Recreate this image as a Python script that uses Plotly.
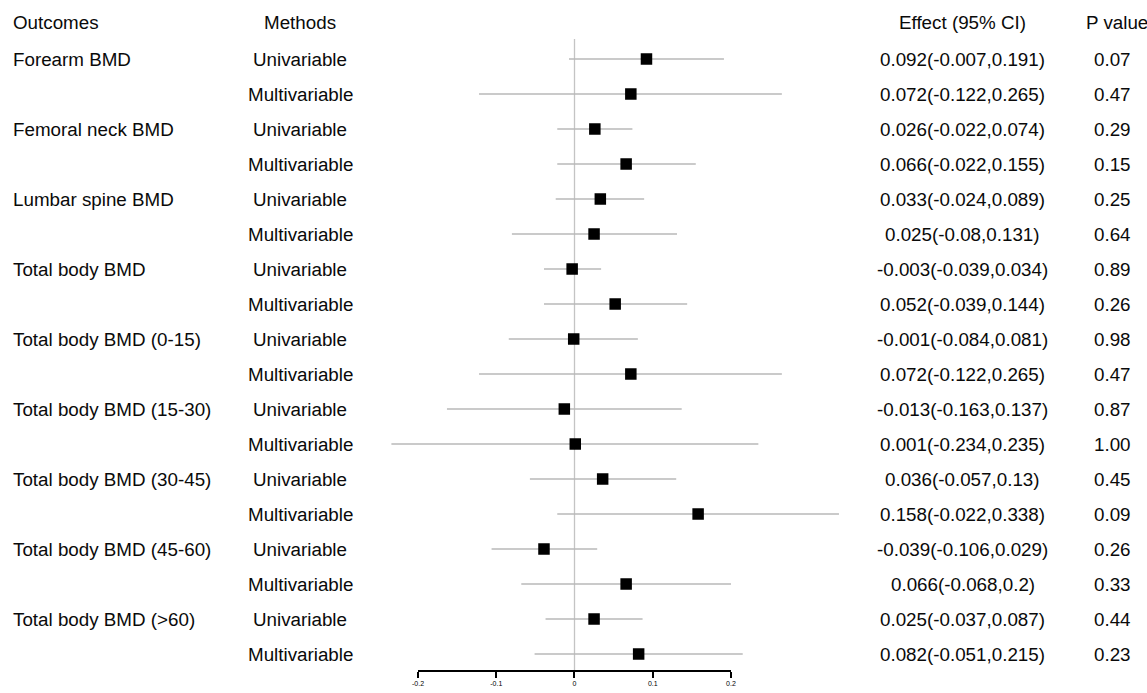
import plotly.graph_objects as go

outcomes = ["Forearm BMD", "Femoral neck BMD", "Lumbar spine BMD", "Total body BMD",
            "Total body BMD (0-15)", "Total body BMD (15-30)", "Total body BMD (30-45)",
            "Total body BMD (45-60)", "Total body BMD (>60)"]
methods = ["Univariable", "Multivariable"]

estimate = [0.092, 0.072, 0.026, 0.066, 0.033, 0.025, -0.003, 0.052, -0.001, 0.072,
            -0.013, 0.001, 0.036, 0.158, -0.039, 0.066, 0.025, 0.082]
lower = [-0.007, -0.122, -0.022, -0.022, -0.024, -0.08, -0.039, -0.039, -0.084, -0.122,
         -0.163, -0.234, -0.057, -0.022, -0.106, -0.068, -0.037, -0.051]
upper = [0.191, 0.265, 0.074, 0.155, 0.089, 0.131, 0.034, 0.144, 0.081, 0.265,
         0.137, 0.235, 0.13, 0.338, 0.029, 0.2, 0.087, 0.215]
p_values = [0.07, 0.47, 0.29, 0.15, 0.25, 0.64, 0.89, 0.26, 0.98, 0.47,
            0.87, 1.00, 0.45, 0.09, 0.26, 0.33, 0.44, 0.23]

tick_vals = [-0.2, -0.1, 0, 0.1, 0.2]
tick_text = ["-0.2", "-0.1", "0", "0.1", "0.2"]

W, H = 1147, 693
FONT = "Liberation Sans, Arial, sans-serif"
FS = 18.8
TXT = "#0a0a0a"


def fmt(v):
    s = f"{v:.3f}".rstrip("0")
    if s.endswith("."):
        s += "0"
    return s


rows = list(range(len(estimate)))

fig = go.Figure()

fig.add_trace(go.Scatter(
    x=estimate, y=rows, mode="markers",
    marker=dict(symbol="square", size=11.5, color="black"),
    error_x=dict(type="data", symmetric=False,
                 array=[u - e for u, e in zip(upper, estimate)],
                 arrayminus=[e - l for e, l in zip(estimate, lower)],
                 color="#b8b8b8", thickness=1.3, width=0),
    hoverinfo="skip", showlegend=False, cliponaxis=False,
))

# helper trace for the scale axis
fig.add_trace(go.Scatter(x=[], y=[], xaxis="x2", yaxis="y", showlegend=False, hoverinfo="skip"))

# zero line
fig.add_shape(type="line", xref="x", yref="y", x0=0, x1=0, y0=-0.57, y1=17.46,
              line=dict(color="#c4c4c4", width=1.3), layer="below")

ann = []
def add(text, xpx, y, anchor):
    ann.append(dict(text=text, x=xpx / W, xref="paper", y=y, yref="y",
                    xanchor=anchor, yanchor="middle", showarrow=False,
                    font=dict(family=FONT, size=FS, color=TXT)))

LX = 5
add("Outcomes", LX, -1.03, "left")
add("Methods", 297, -1.03, "center")
add("Effect (95% CI)", 966, -1.03, "center")
add("P value", 1122, -1.03, "center")

for i in rows:
    if i % 2 == 0:
        add(outcomes[i // 2], LX, i, "left")
    add(methods[i % 2], 297, i, "center")
    add(f"{fmt(estimate[i])}({fmt(lower[i])},{fmt(upper[i])})", 966, i, "center")
    add(f"{p_values[i]:.2f}", 1117, i, "center")

px0 = 574.0
scale = 790.0  # pixels per unit
fig.update_layout(
    width=W, height=H,
    margin=dict(l=0, r=0, t=0, b=0, pad=0),
    paper_bgcolor="white", plot_bgcolor="rgba(0,0,0,0)",
    showlegend=False,
    annotations=ann,
    xaxis=dict(range=[-px0 / scale, (W - px0) / scale], visible=False, domain=[0, 1]),
    yaxis=dict(range=[(H - 59) / 35.0, -59 / 35.0], visible=False, domain=[0, 1]),
    xaxis2=dict(domain=[(px0 - 0.2 * scale) / W, (px0 + 0.2 * scale) / W],
                range=[-0.2, 0.2], anchor="free", position=1 - 671 / H,
                tickvals=tick_vals, ticktext=tick_text, ticks="outside",
                ticklen=6, tickwidth=1.5, tickcolor="black",
                showline=True, linewidth=1.5, linecolor="black",
                showgrid=False, zeroline=False,
                tickfont=dict(family=FONT, size=7, color="black")),
)

fig.write_html("out.html")
